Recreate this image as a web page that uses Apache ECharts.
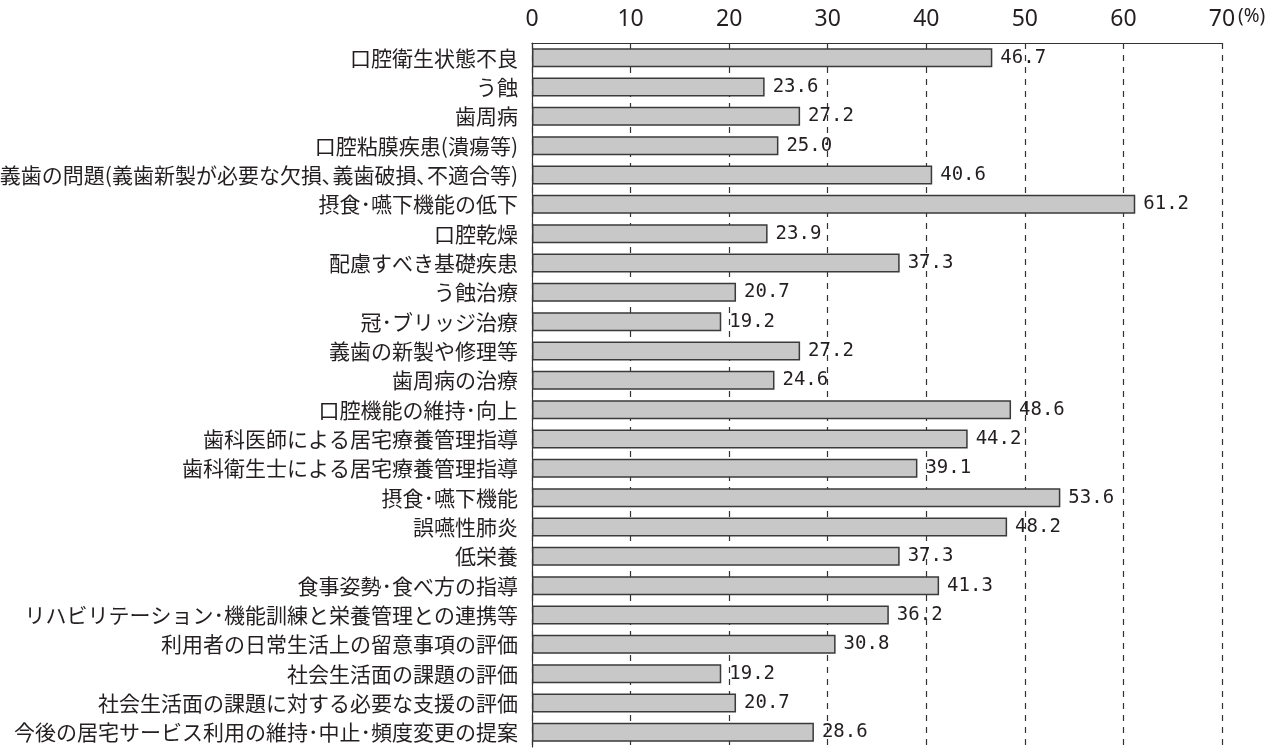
<!DOCTYPE html>
<html><head><meta charset="utf-8">
<script src="https://cdn.jsdelivr.net/npm/echarts@6/dist/echarts.min.js"></script>
<style>html,body{margin:0;padding:0;background:#fff}#c{width:1280px;height:748px}</style>
</head><body><div id="c"></div>
<script>
const categories = [
  '口腔衛生状態不良','う蝕','歯周病','口腔粘膜疾患(潰瘍等)',
  '義歯の問題(義歯新製が必要な欠損､義歯破損､不適合等)','摂食･嚥下機能の低下','口腔乾燥','配慮すべき基礎疾患',
  'う蝕治療','冠･ブリッジ治療','義歯の新製や修理等','歯周病の治療',
  '口腔機能の維持･向上','歯科医師による居宅療養管理指導','歯科衛生士による居宅療養管理指導','摂食･嚥下機能',
  '誤嚥性肺炎','低栄養','食事姿勢･食べ方の指導','リハビリテーション･機能訓練と栄養管理との連携等',
  '利用者の日常生活上の留意事項の評価','社会生活面の課題の評価','社会生活面の課題に対する必要な支援の評価','今後の居宅サービス利用の維持･中止･頻度変更の提案'
];
const values = [46.7,23.6,27.2,25.0,40.6,61.2,23.9,37.3,20.7,19.2,27.2,24.6,48.6,44.2,39.1,53.6,48.2,37.3,41.3,36.2,30.8,19.2,20.7,28.6];
const xTicks = [0,10,20,30,40,50,60,70];
const unitLabel = '(%)';

const chart = echarts.init(document.getElementById('c'));
chart.setOption({
  animation:false,
  grid:{left:532,right:58,top:43,bottom:1,containLabel:false,outerBoundsMode:'none'},
  xAxis:{
    type:'value',position:'top',min:xTicks[0],max:xTicks[xTicks.length-1],interval:10,
    axisLine:{show:true,lineStyle:{color:'#333',width:1.2}},
    axisTick:{show:false},
    axisLabel:{margin:12,fontFamily:'Noto Sans',fontSize:23,color:'#231f20'},
    splitLine:{show:true,lineStyle:{color:'#333',width:1.2,type:[6,6]}}
  },
  yAxis:{
    type:'category',data:categories,inverse:true,
    axisLine:{show:true,lineStyle:{color:'#333',width:1.2}},
    axisTick:{show:false},
    axisLabel:{margin:14,fontFamily:'Noto Sans CJK JP',fontSize:21,color:'#231f20'}
  },
  graphic:[{type:'text',left:1238,top:7,style:{text:unitLabel,fontFamily:'Noto Sans',fontSize:19,fill:'#231f20'}}],
  series:[{
    type:'bar',data:values,barWidth:19,z:3,
    itemStyle:{color:'#c8c8c8',borderColor:'#3a3a3a',borderWidth:1.5},
    label:{show:true,position:'right',distance:8,formatter:p=>p.value.toFixed(1),
      fontFamily:'DejaVu Sans Mono',fontSize:19,color:'#231f20'}
  }]
});
</script></body></html>
